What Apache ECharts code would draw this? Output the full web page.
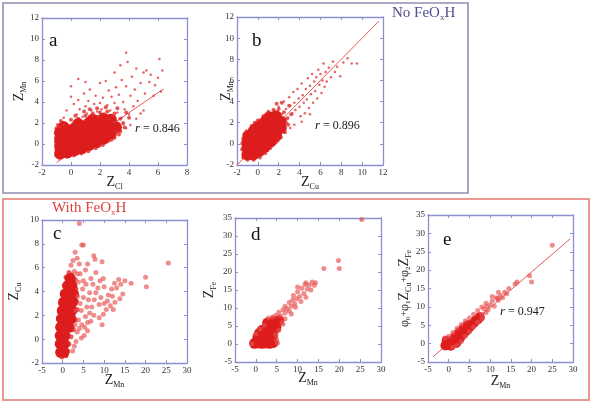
<!DOCTYPE html>
<html>
<head>
<meta charset="utf-8">
<title>Z scatter</title>
<script src="https://cdn.jsdelivr.net/npm/echarts@6/dist/echarts.min.js"></script>
<style>
  html, body { margin: 0; padding: 0; background: #fff; }
  #chart { width: 592px; height: 408px; }
</style>
</head>
<body>
<div id="chart"></div>
<script>
// ---- data ----
// panel a : Z_Mn vs Z_Cl
var aCore = [[-0.75,-0.9],[-0.75,-0.2],[-0.75,0.5],[-0.75,1.1],[-0.25,-0.8],[-0.25,-0.1],[-0.25,0.6],[-0.25,1.3],
  [0.25,-0.6],[0.25,0.1],[0.25,0.8],[0.25,1.5],[0.75,-0.4],[0.75,0.3],[0.75,1.0],[0.75,1.7],
  [1.25,-0.1],[1.25,0.6],[1.25,1.3],[1.25,2.0],[1.75,0.2],[1.75,0.9],[1.75,1.6],[1.75,2.2],
  [2.25,0.5],[2.25,1.2],[2.25,1.9],[2.25,2.4],[2.75,1.0],[2.75,1.7],[2.75,2.3],[3.1,1.6],
  [-0.5,-0.5],[0,0.3],[0.5,-0.1],[1,0.7],[1.5,0.4],[2,1.5],[2.5,0.9],[-0.5,1.6],[0.5,1.9],[1.5,2.3]];
var aEdge = [[-0.9,1.8],[-0.5,2.0],[0,2.3],[0.5,2.4],[1,2.7],[1.5,2.9],[2,3.0],[2.5,3.1],[3,2.9],[3.4,2.4],
  [3.6,2.0],[3.4,1.2],[3,0.6],[2.6,0.3],[2.2,-0.1],[1.7,-0.4],[1.2,-0.7],[0.7,-0.9],[0.2,-1.1],[-0.3,-1.2],
  [-0.8,-1.3],[-1.0,-1.1],[-1.05,0.2],[-1.05,1.0],[4,2.5],[3.8,3],[3.2,3.4],[2.4,3.5],[1.8,3.4],[0.9,3.1],
  [-1.0,-0.5],[-1.0,1.5],[-0.7,2.2],[0.3,2.7],[1.3,3.3],[3.3,0.9],[2.8,0.4],[1.9,-0.2],[0.9,-0.7],[3.7,1.6]];
var aPts = [[-0.5,2.5],[-0.3,3.2],[0,4.5],[0,5.5],[0.2,3.8],[0.4,2.8],[0.5,4.2],[0.6,3.3],[0.8,2.6],[0.9,4.8],
  [1,3.6],[1.1,2.9],[1.2,4.1],[1.3,5.2],[1.4,3.2],[1.5,2.7],[1.6,3.8],[1.7,4.6],[1.8,3.1],[1.9,2.6],
  [2,5.8],[2,3.9],[2.1,3.3],[2.2,4.4],[2.3,2.9],[2.4,6.0],[2.5,3.7],[2.6,5.1],[2.7,3.2],[2.8,4.5],
  [2.9,2.7],[3,6.8],[3,3.9],[3.1,5.4],[3.2,3.0],[3.3,4.7],[3.4,7.5],[3.5,2.5],[3.5,6.1],[3.6,4.0],
  [3.7,3.3],[3.8,5.5],[3.8,8.7],[3.9,7.8],[4.0,2.8],[4.1,4.6],[4.2,6.4],[4.3,3.6],[4.4,5.2],[4.5,7.2],
  [4.6,4.1],[4.8,5.8],[5.0,6.8],[5.1,4.8],[5.2,7.0],[5.4,5.9],[5.5,6.6],[5.7,4.6],[5.8,5.6],[6.0,6.3],
  [6.1,8.1],[6.2,5.0],[6.3,7.0],[4.1,1.8],[3.6,1.9],[4.5,2.4],[5.0,3.2],[4.8,2.9],[3.2,1.2],[3.8,1.5],
  [0.5,6.2],[1.0,5.9],[-0.8,1.6],[-0.5,1.8],[2.6,2.3],[3.0,2.1]];
var aLine = [[-1,-1.77],[6.4,5.26]];

// panel b : Z_Mn vs Z_Cu
var bCore = [[-1,-1],[-1,-0.4],[-1,0.2],[-0.9,0.7],[-0.45,-1],[-0.45,-0.4],[-0.45,0.2],[-0.45,0.8],[-0.4,1.2],
  [0.1,-0.7],[0.1,-0.1],[0.1,0.5],[0.1,1.1],[0.1,1.6],[0.65,-0.3],[0.65,0.3],[0.65,0.9],[0.65,1.5],[0.65,2.0],
  [1.2,0.2],[1.2,0.8],[1.2,1.4],[1.2,2.0],[1.2,2.5],[1.75,0.8],[1.75,1.4],[1.75,2.0],[1.75,2.6],[2.2,1.5],[2.2,2.1],
  [-0.7,-0.7],[-0.2,-0.4],[0.4,0],[0.9,0.6],[1.5,1.1],[-0.7,0.5],[-0.2,1.4],[0.4,1.8],[0.9,2.3],[1.5,2.4]];
var bEdge = [[-1.4,-1.3],[-1.5,-0.5],[-1.4,0.5],[-1.1,1.2],[-0.6,1.7],[0,2.2],[0.5,2.5],[1,3.0],[1.5,3.2],[2,3.3],
  [2.5,3.0],[2.8,2.4],[2.9,1.8],[2.6,1.1],[2.2,0.6],[1.7,0.1],[1.2,-0.4],[0.7,-0.9],[0.2,-1.3],[-0.4,-1.5],
  [-1,-1.5],[3.2,2.8],[3,3.6],[2.3,3.9],[1.8,3.8],[-1.5,0],[-1.3,0.9],[-0.3,2.0],[0.8,2.8],[2.4,1.5],[1.9,0.3]];
var bPts = [[1.5,3.2],[2,3.5],[2.3,2.8],[2.5,4],[2.7,3.3],[2.9,2.5],[3,4.4],[3.1,3.6],[3.3,2.9],[3.4,4.9],
  [3.5,3.9],[3.6,3.2],[3.8,5.2],[3.9,4.3],[4,3.5],[4.1,2.6],[4.2,5.7],[4.3,4.6],[4.4,3.9],[4.5,2.9],
  [4.6,5.2],[4.7,4.2],[4.8,6.2],[4.9,3.4],[5.0,5.5],[5.1,4.7],[5.2,6.6],[5.3,3.9],[5.4,5.9],[5.5,5.0],
  [5.6,6.3],[5.7,4.3],[5.8,7.0],[5.9,5.6],[6.0,6.6],[6.1,4.8],[6.2,6.0],[6.3,7.6],[6.4,5.4],[6.5,6.8],
  [6.6,5.9],[6.8,7.2],[7.0,6.3],[7.2,7.8],[7.4,6.8],[7.6,7.3],[7.9,6.4],[8.2,7.7],[8.6,8.1],[9.0,7.6],
  [9.5,7.6],[3.1,1.5],[3.5,1.8],[2.8,2.0],[0.5,2.7],[1,3.1],[0.2,2.3],[5,2.8],[4.2,2.1]];
var bLine = [[-2,-2],[11.6,11.6]];

// panel c : Z_Cu vs Z_Mn
var cCore = [[-0.5,-1.1],[0.3,-1.1],[-0.6,-0.4],[0.4,-0.4],[-0.6,0.3],[0.5,0.3],[-0.5,1.0],[0.8,1.0],[1.5,1.0],
  [-0.3,1.7],[1.0,1.7],[2.0,1.7],[-0.1,2.4],[1.1,2.4],[2.2,2.4],[0.2,3.1],[1.3,3.1],[2.4,3.1],
  [0.6,3.8],[1.6,3.8],[2.6,3.8],[1.2,4.5],[2.2,4.5],[1.8,5.1],
  [0,-0.8],[0,-0.1],[0.1,0.6],[0.3,1.4],[0.5,2.0],[0.6,2.8],[1.8,2.8],[1.0,3.5],[2.1,3.4],[1.7,4.2]];
var cEdge = [[-1,1.8],[-0.8,2.3],[-0.5,3.0],[0,3.8],[0.4,4.5],[0.8,5.2],[1.5,5.6],[2.2,5.4],[3,5.0],[3.2,4.2],
  [3.3,3.2],[3.5,2.5],[3,1.6],[2.6,0.8],[2,0.2],[1.5,-0.4],[1.2,-1],[0.8,-1.4],[-0.2,-1.5],[-0.9,-1.3],
  [-1,-0.5],[-1,0.4],[-1,1.1]];
var cPts = [[4,9.7],[5,7.9],[4.6,7.9],[3,7.3],[2.5,6.6],[3.5,6.8],[4,6.3],[2,6.2],[2.8,5.7],[3.5,5.5],
  [7.5,7.0],[7.8,6.7],[9.5,6.5],[6,6.3],[5.5,5.8],[25.5,6.4],[20,5.2],[20.2,4.4],[16.5,4.7],[15,4.9],
  [14,4.6],[13.5,5.0],[12.5,4.7],[11.8,4.2],[13,4.3],[12,3.6],[12.6,3.1],[11.5,2.8],[10.5,2.5],[11,3.7],
  [10,4.4],[9.8,5.1],[9,4.9],[8.5,4.3],[8,3.9],[9.2,3.5],[8.8,2.9],[7.6,3.3],[7,2.7],[7.3,4.6],
  [6.5,3.9],[6.2,3.3],[6.5,2.2],[7.5,2.0],[8.8,1.8],[9.8,2.1],[5.8,2.7],[5.5,1.9],[5,3.5],[4.8,4.2],
  [4.5,2.4],[4.2,3.0],[3.8,1.6],[4,0.9],[4.6,1.2],[5.3,1.0],[6,1.4],[6.8,1.5],[5.2,0.3],[4.5,0.1],
  [3.5,0.6],[3.2,-0.2],[3,1.2],[3.2,2.4],[3.6,3.6],[3.8,4.8],[5.6,4.6],[6.8,5.1],[8,5.6],[10.8,3.2],
  [9.5,1.2],[2.8,-0.6],[2.4,-1],[5,4.9],[4.2,5.5],[6,0.7],[14.5,3.8],[12.2,2.5],[10,3.0],[13.8,3.4]];

// panel d : Z_Fe vs Z_Mn
var dCore = [[-0.3,0.2],[1.5,0.2],[3.3,0.2],[0.5,2],[2.3,2],[4,2.2],[1.5,3.8],[3.2,4],[4.8,4.5],
  [2.8,5.8],[4.3,6.3],[5.5,6.5],[0.6,0.3],[2.4,0.3],[4.1,0.4],[1.4,1.2],[3.1,1.3],[0.9,3.0],[2.4,3.3],[4,3.4],[3.6,5.3]];
var dPts = [[4.8,8],[5.5,8.8],[6,7.8],[6.5,9.5],[7,8.6],[7,10.5],[7.5,9.8],[8,11.5],[8,9.2],[8.5,10.5],
  [8.8,12.2],[9,13.5],[9.3,11.2],[9.8,12.6],[10,14.5],[10,15.8],[10.5,13.2],[10.8,11.8],[11,15.5],[11.5,14],
  [11.8,16.5],[12,13],[12.3,15.3],[12.8,16.4],[13.2,15],[13.5,17.2],[14,16.3],[14.3,17],[12,17],[6.2,6],
  [7,7],[6.5,5.5],[5.5,3.8],[4.8,2.5],[5,1.2],[5.2,0.3],[-1,0],[0,2.8],[1,4.2],[2,5.2],
  [3,7.2],[4,7.5],[8.5,8.3],[9.5,10.2],[16.3,21],[19.8,23.2],[20,21],[25.4,34.6]];

// panel e : phi0 + phi1 Z_Cu + phi2 Z_Fe vs Z_Mn
var eCore = [[-0.8,-0.5],[-0.5,0.8],[0.5,-0.6],[0.8,0.7],[1.8,0.2],[1.5,1.8],[2.7,1.5],[2.5,3],[3.6,2.8],
  [3.5,4],[4.6,4],[4.5,5],[5.6,5.3],[6.5,6.3],[7.5,7.2],[0.2,0.1],[1.2,1.0],[2.1,2.2],[3.1,2.2],[4.1,3.4],[5.1,4.6],[6.1,5.7],[7,6.6]];
var ePts = [[8,8],[8.5,9.5],[9,8.5],[9.2,10.2],[9.5,9.2],[10,10.5],[8,6.8],[7,5.8],[6,4.5],[5,3.2],
  [4,2],[3,0.5],[2,-0.5],[1,-1],[-1,1.5],[0,2],[1,3],[2,4.2],[3,5.2],[4,6.2],
  [5,7],[6,8],[7,9],[8,10],[10.5,11.5],[11,10.2],[11.5,12.5],[12,11.8],[12.5,13],[13,12.5],
  [13.5,14],[14,13.6],[14.5,15],[11.8,12.3],[16,16.2],[16.5,16.8],[19.5,18.5],[20,16.8],[25,26.8],[10.5,12.8],
  [12,14],[9,11]];
var eLine = [[-3.8,-3.6],[29.3,28.5]];

// axis ranges per panel: [xmin, xmax, xstep, ymin, ymax, ystep]
var ranges = [[-2,8,2,-2,12,2],[-2,12,2,-2,12,2],[-5,30,5,-2,10,2],[-5,30,5,-5,35,5],[-5,30,5,-5,35,5]];
var rValues = ['0.846','0.896','0.947'];

// ---- layout ----
var SERIF = 'Liberation Serif';
var AX = '#8b8fcf';
var RED = '#dd1d1d';
var grids = [
  {left:42, top:18, width:145, height:147},
  {left:237, top:17, width:146, height:148},
  {left:42, top:220, width:145, height:143},
  {left:235, top:218, width:146, height:144},
  {left:428, top:215, width:145, height:147}
];

var rich = {
  z: {fontFamily:SERIF, fontSize:14, color:'#222', lineHeight:16},
  s: {fontFamily:SERIF, fontSize:8, color:'#222', padding:[9,0,0,0]},
  p: {fontFamily:SERIF, fontSize:12, color:'#222'},
  ps: {fontFamily:SERIF, fontSize:7, color:'#222', padding:[7,0,0,0]},
  n: {fontFamily:SERIF, fontSize:10, color:'#222'}
};
var xNames = ['{z|Z}{s|Cl}','{z|Z}{s|Cu}','{z|Z}{s|Mn}','{z|Z}{s|Mn}','{z|Z}{s|Mn}'];
var yNames = ['{z|Z}{s|Mn}','{z|Z}{s|Mn}','{z|Z}{s|Cu}','{z|Z}{s|Fe}',
  '{p|φ}{ps|0}{n|+}{p|φ}{ps|1}{z|Z}{s|Cu}{n|+}{p|φ}{ps|2}{z|Z}{s|Fe}'];
var xGaps = [9, 9, 9, 8, 11];
var yGaps = [14, 2, 19, 17, 15];

function makeAxis(i, dim, primary) {
  var r = ranges[i];
  var ax = {
    gridIndex: i, type: 'value',
    min: dim === 'x' ? r[0] : r[3],
    max: dim === 'x' ? r[1] : r[4],
    interval: dim === 'x' ? r[2] : r[5],
    position: dim === 'x' ? (primary ? 'bottom' : 'top') : (primary ? 'left' : 'right'),
    axisLine: {show: true, onZero: false, lineStyle: {color: AX, width: 1.3}},
    axisTick: {show: true, inside: true, length: 3, lineStyle: {color: AX}},
    axisLabel: {show: primary, fontFamily: SERIF, fontSize: 9, color: '#333', margin: 3},
    splitLine: {show: false}
  };
  if (primary) {
    ax.name = dim === 'x' ? xNames[i] : yNames[i];
    ax.nameLocation = 'middle';
    ax.nameGap = dim === 'x' ? xGaps[i] : yGaps[i];
    ax.nameMoveOverlap = false;
    ax.nameTextStyle = {rich: rich};
  }
  return ax;
}

var xAxes = [], yAxes = [];
for (var i = 0; i < 5; i++) {
  xAxes.push(makeAxis(i, 'x', true), makeAxis(i, 'x', false));
  yAxes.push(makeAxis(i, 'y', true), makeAxis(i, 'y', false));
}

function scat(i, data, size, color, opacity) {
  return {type:'scatter', xAxisIndex:2*i, yAxisIndex:2*i, data:data, symbolSize:size,
    itemStyle:{color:color, opacity:opacity}, silent:true, z:2};
}
function fitLine(i, data) {
  return {type:'line', xAxisIndex:2*i, yAxisIndex:2*i, data:data, symbol:'none', silent:true,
    lineStyle:{color:'#e35a5a', width:1}, z:1};
}

var series = [
  fitLine(0, aLine), scat(0, aCore, 12, RED, 1), scat(0, aEdge, 4, RED, 0.75), scat(0, aPts, 2.5, '#e43a3a', 0.8),
  fitLine(1, bLine), scat(1, bCore, 12, RED, 1), scat(1, bEdge, 4, RED, 0.75), scat(1, bPts, 2.5, '#e43a3a', 0.8),
  scat(2, cCore, 11, RED, 1), scat(2, cEdge, 5, RED, 0.7), scat(2, cPts, 5, '#e75050', 0.65),
  scat(3, dCore, 11, RED, 1), scat(3, dPts, 5, '#e75050', 0.65),
  fitLine(4, eLine), scat(4, eCore, 10, RED, 1), scat(4, ePts, 5, '#e75050', 0.65)
];

function label(x, y, t) {
  return {type:'text', left:x, top:y, style:{text:t, font:'19px ' + SERIF, fill:'#111'}, z:10};
}
function rText(x, y, v) {
  return {type:'text', left:x, top:y, z:10, style:{text:'{i|r}{n| = ' + v + '}',
    rich:{i:{fontFamily:SERIF, fontStyle:'italic', fontSize:13, fill:'#222'},
          n:{fontFamily:SERIF, fontSize:12, fill:'#222'}}}};
}

var graphics = [
  {type:'rect', shape:{x:3, y:3, width:465, height:190}, style:{fill:'none', stroke:'#8f8fb0', lineWidth:1.6}},
  {type:'rect', shape:{x:3, y:199, width:586, height:201}, style:{fill:'none', stroke:'#eb9890', lineWidth:2}},
  {type:'text', left:392, top:6, style:{text:'No FeO{s|x}H', font:'15px ' + SERIF, fill:'#4d4d8f',
    rich:{s:{fontFamily:SERIF, fontSize:9, fill:'#4d4d8f', padding:[8,0,0,0]}}}},
  {type:'text', left:52, top:201, style:{text:'With FeO{s|x}H', font:'15px ' + SERIF, fill:'#e0403a',
    rich:{s:{fontFamily:SERIF, fontSize:9, fill:'#e0403a', padding:[8,0,0,0]}}}},
  label(49, 32, 'a'), label(252, 32, 'b'), label(53, 225, 'c'), label(251, 226, 'd'), label(443, 231, 'e'),
  rText(135, 122, rValues[0]), rText(315, 119, rValues[1]), rText(500, 305, rValues[2])
];

var chart = echarts.init(document.getElementById('chart'), null, {renderer: 'canvas'});
chart.setOption({
  backgroundColor: '#fff',
  animation: false,
  grid: grids,
  xAxis: xAxes,
  yAxis: yAxes,
  series: series,
  graphic: graphics
});
</script>
</body>
</html>
